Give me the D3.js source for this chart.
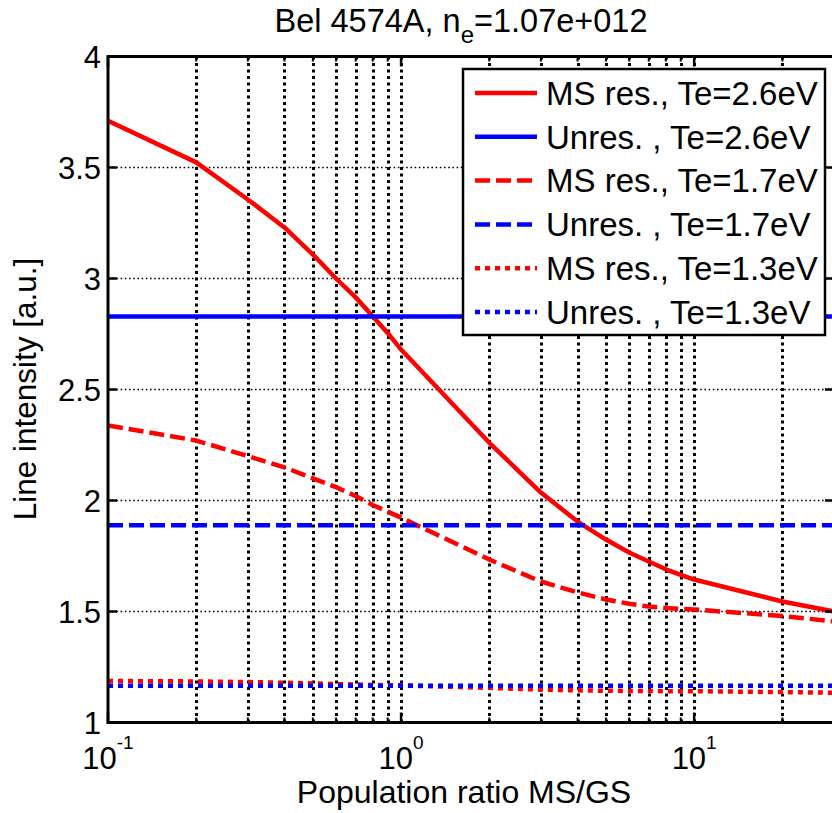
<!DOCTYPE html>
<html>
<head>
<meta charset="utf-8">
<script src="https://cdn.jsdelivr.net/npm/d3@7/dist/d3.min.js"></script>
<style>
  html, body { margin: 0; padding: 0; background: #fff; }
  svg { display: block; }
  text { font-family: "Liberation Sans", Arial, sans-serif; fill: #000; }
</style>
</head>
<body>
<svg id="chart" width="832" height="813"></svg>
<script>
// ---- data ----
const xValues = [0.1, 0.2, 0.3, 0.4, 0.5, 0.6, 0.7, 0.8, 0.9, 1, 2, 3, 4, 5, 6, 7, 8, 9, 10, 20, 30];
const msRes26 = [3.71, 3.523, 3.356, 3.23, 3.108, 3.0, 2.915, 2.83, 2.755, 2.68, 2.26, 2.036, 1.905, 1.824, 1.766, 1.725, 1.69, 1.665, 1.644, 1.545, 1.5];
const msRes17 = [2.338, 2.27, 2.2, 2.149, 2.10, 2.06, 2.02, 1.98, 1.95, 1.923, 1.734, 1.635, 1.586, 1.554, 1.535, 1.522, 1.516, 1.512, 1.509, 1.48, 1.455];
const msRes13 = [1.187, 1.185, 1.182, 1.179, 1.176, 1.173, 1.171, 1.169, 1.168, 1.167, 1.156, 1.148, 1.145, 1.143, 1.142, 1.142, 1.141, 1.141, 1.141, 1.137, 1.134];
const unres26 = xValues.map(() => 2.829);
const unres17 = xValues.map(() => 1.889);
const unres13 = xValues.map(() => 1.165);
const seriesNames = ["MS res., Te=2.6eV", "Unres. , Te=2.6eV", "MS res., Te=1.7eV", "Unres. , Te=1.7eV", "MS res., Te=1.3eV", "Unres. , Te=1.3eV"];
const yTicks = [1, 1.5, 2, 2.5, 3, 3.5, 4];
const yTickLabels = ["1", "1.5", "2", "2.5", "3", "3.5", "4"];
const xMajorTicks = [0.1, 1, 10];
const xMajorExp = ["-1", "0", "1"];
const titleMain = "Bel 4574A, n";
const titleSub = "e";
const titleRest = "=1.07e+012";
const xLabel = "Population ratio MS/GS";
const yLabel = "Line intensity [a.u.]";

// ---- layout ----
const svg = d3.select("#chart");
const L = 108, R = 834, T = 56.5, B = 722.5;
const x = d3.scaleLog().domain([0.1, 30]).range([L, R]);
const y = d3.scaleLinear().domain([1, 4]).range([B, T]);

svg.append("rect").attr("width", 832).attr("height", 813).attr("fill", "#fff");

const styles = [
  {color: "#ff0000", dash: null, width: 4.5},
  {color: "#0000ff", dash: null, width: 4.5},
  {color: "#ff0000", dash: "15,6", width: 4.5},
  {color: "#0000ff", dash: "15,6", width: 4.5},
  {color: "#ff0000", dash: "5,5", width: 4.5},
  {color: "#0000ff", dash: "5,5", width: 4.5}
];
const series = [msRes26, unres26, msRes17, unres17, msRes13, unres13];

// minor x grid positions
const minorX = [];
[0.1, 1, 10].forEach(d => { for (let k = 2; k <= 9; k++) { const v = d * k; if (v <= 30) minorX.push(v); } });
const allX = xMajorTicks.concat(minorX);

// grid
const grid = svg.append("g");
grid.selectAll("line.vg").data(allX.filter(v => v > 0.1)).enter().append("line")
  .attr("x1", d => Math.round(x(d)) + 0.5).attr("x2", d => Math.round(x(d)) + 0.5).attr("y1", T).attr("y2", B)
  .attr("stroke", "#000").attr("stroke-width", 3).attr("stroke-dasharray", "3,3.5");
grid.selectAll("line.hg").data(yTicks.filter(v => v > 1 && v < 4)).enter().append("line")
  .attr("x1", L).attr("x2", R).attr("y1", d => y(d)).attr("y2", d => y(d))
  .attr("stroke", "#000").attr("stroke-width", 1.6).attr("stroke-dasharray", "1.6,2.6");

// curves
svg.append("clipPath").attr("id", "clip").append("rect")
  .attr("x", L).attr("y", T).attr("width", R - L).attr("height", B - T);
const line = d3.line().x((d, i) => x(xValues[i])).y(d => y(d));
const plot = svg.append("g").attr("clip-path", "url(#clip)");
series.forEach((s, i) => {
  plot.append("path").datum(s).attr("d", line)
    .attr("fill", "none").attr("stroke", styles[i].color)
    .attr("stroke-width", styles[i].width)
    .attr("stroke-linejoin", "round")
    .attr("stroke-dasharray", styles[i].dash);
});

// axes box and ticks
const ax = svg.append("g");
ax.append("rect").attr("x", L).attr("y", T).attr("width", R - L).attr("height", B - T)
  .attr("fill", "none").attr("stroke", "#000").attr("stroke-width", 3);
yTicks.forEach(v => {
  ax.append("line").attr("x1", L).attr("x2", L + 9).attr("y1", y(v)).attr("y2", y(v)).attr("stroke", "#000").attr("stroke-width", 2.5);
  ax.append("line").attr("x1", R - 9).attr("x2", R).attr("y1", y(v)).attr("y2", y(v)).attr("stroke", "#000").attr("stroke-width", 2.5);
});
xMajorTicks.forEach(v => {
  ax.append("line").attr("x1", x(v)).attr("x2", x(v)).attr("y1", B).attr("y2", B - 10).attr("stroke", "#000").attr("stroke-width", 2.5);
  ax.append("line").attr("x1", x(v)).attr("x2", x(v)).attr("y1", T).attr("y2", T + 10).attr("stroke", "#000").attr("stroke-width", 2.5);
});
minorX.forEach(v => {
  ax.append("line").attr("x1", x(v)).attr("x2", x(v)).attr("y1", B).attr("y2", B - 5).attr("stroke", "#000").attr("stroke-width", 2);
  ax.append("line").attr("x1", x(v)).attr("x2", x(v)).attr("y1", T).attr("y2", T + 5).attr("stroke", "#000").attr("stroke-width", 2);
});

// y tick labels
yTicks.forEach((v, i) => {
  svg.append("text").attr("x", 101).attr("y", y(v)).attr("dy", "0.36em")
    .attr("text-anchor", "end").attr("font-size", 31).text(yTickLabels[i]);
});
// x tick labels
xMajorTicks.forEach((v, i) => {
  const t = svg.append("text").attr("x", x(v)).attr("y", 769).attr("text-anchor", "middle").attr("font-size", 31);
  t.append("tspan").text("10");
  t.append("tspan").attr("font-size", 19).attr("dy", -20).text(xMajorExp[i]);
});

// title
const tt = svg.append("text").attr("x", 461).attr("y", 32).attr("text-anchor", "middle").attr("font-size", 32.5);
tt.append("tspan").text(titleMain);
tt.append("tspan").attr("font-size", 24).attr("dy", 11).text(titleSub);
tt.append("tspan").attr("dy", -11).text(titleRest);

// axis labels
svg.append("text").attr("x", 464).attr("y", 803).attr("text-anchor", "middle").attr("font-size", 32).text(xLabel);
svg.append("text").attr("transform", "translate(36,389) rotate(-90)").attr("text-anchor", "middle").attr("font-size", 31.5).text(yLabel);

// legend
const lg = svg.append("g");
lg.append("rect").attr("x", 463).attr("y", 69).attr("width", 362).attr("height", 266)
  .attr("fill", "#fff").attr("stroke", "#000").attr("stroke-width", 2.5);
seriesNames.forEach((name, i) => {
  const cy = 93 + i * 43.8;
  lg.append("line").attr("x1", 475).attr("x2", 537).attr("y1", cy).attr("y2", cy)
    .attr("stroke", styles[i].color).attr("stroke-width", styles[i].width)
    .attr("stroke-dasharray", styles[i].dash);
  lg.append("text").attr("x", 546).attr("y", cy).attr("dy", "0.36em").attr("font-size", 33).text(name);
});
</script>
</body>
</html>
